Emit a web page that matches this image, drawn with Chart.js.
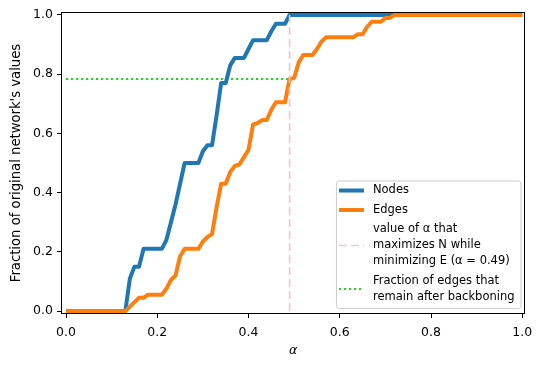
<!DOCTYPE html>
<html lang="en">
<head>
  <meta charset="UTF-8">
  <title>Backboning: fraction kept vs alpha</title>
  <script src="https://cdn.jsdelivr.net/npm/chart.js"></script>
  <style>
    html, body { margin: 0; padding: 0; background: #fff; }
    .chart-box { width: 542px; height: 367px; position: relative; }
  </style>
</head>
<body>

  <div class="chart-box"><canvas id="fracChart"></canvas></div>

  <script>
    // alpha grid (x values)
    const alphas = [
      0.00, 0.01, 0.02, 0.03, 0.04, 0.05, 0.06, 0.07, 0.08, 0.09,
      0.10, 0.11, 0.12, 0.13, 0.14, 0.15, 0.16, 0.17, 0.18, 0.19,
      0.20, 0.21, 0.22, 0.23, 0.24, 0.25, 0.26, 0.27, 0.28, 0.29,
      0.30, 0.31, 0.32, 0.33, 0.34, 0.35, 0.36, 0.37, 0.38, 0.39,
      0.40, 0.41, 0.42, 0.43, 0.44, 0.45, 0.46, 0.47, 0.48, 0.49,
      0.50, 0.51, 0.52, 0.53, 0.54, 0.55, 0.56, 0.57, 0.58, 0.59,
      0.60, 0.61, 0.62, 0.63, 0.64, 0.65, 0.66, 0.67, 0.68, 0.69,
      0.70, 0.71, 0.72, 0.73, 0.74, 0.75, 0.76, 0.77, 0.78, 0.79,
      0.80, 0.81, 0.82, 0.83, 0.84, 0.85, 0.86, 0.87, 0.88, 0.89,
      0.90, 0.91, 0.92, 0.93, 0.94, 0.95, 0.96, 0.97, 0.98, 0.99,
      1.00
    ];

    // fraction of nodes kept
    const nodes = [
      0, 0, 0, 0, 0, 0, 0, 0, 0, 0,
      0, 0, 0, 0, 0.11, 0.15, 0.15, 0.21, 0.21, 0.21,
      0.21, 0.21, 0.24, 0.30, 0.36, 0.43, 0.50, 0.50, 0.50, 0.50,
      0.54, 0.56, 0.56, 0.66, 0.77, 0.77, 0.83, 0.855, 0.855, 0.855,
      0.885, 0.915, 0.915, 0.915, 0.915, 0.945, 0.97, 0.97, 0.97, 1,
      1, 1, 1, 1, 1, 1, 1, 1, 1, 1,
      1, 1, 1, 1, 1, 1, 1, 1, 1, 1,
      1, 1, 1, 1, 1, 1, 1, 1, 1, 1,
      1, 1, 1, 1, 1, 1, 1, 1, 1, 1,
      1, 1, 1, 1, 1, 1, 1, 1, 1, 1,
      1
    ];

    // fraction of edges kept
    const edges = [
      0, 0, 0, 0, 0, 0, 0, 0, 0, 0,
      0, 0, 0, 0, 0.015, 0.03, 0.045, 0.045, 0.055, 0.055,
      0.055, 0.055, 0.075, 0.105, 0.12, 0.185, 0.21, 0.21, 0.21, 0.21,
      0.235, 0.25, 0.26, 0.35, 0.43, 0.43, 0.47, 0.49, 0.495, 0.52,
      0.545, 0.63, 0.635, 0.645, 0.645, 0.68, 0.705, 0.705, 0.705, 0.784,
      0.787, 0.84, 0.865, 0.865, 0.865, 0.885, 0.91, 0.925, 0.925, 0.925,
      0.925, 0.925, 0.925, 0.925, 0.935, 0.935, 0.96, 0.977, 0.977, 0.977,
      0.99, 0.99, 1, 1, 1, 1, 1, 1, 1, 1,
      1, 1, 1, 1, 1, 1, 1, 1, 1, 1,
      1, 1, 1, 1, 1, 1, 1, 1, 1, 1,
      1
    ];

    const alphaBest = 0.49;
    const edgeFracKept = 0.784;

    const xTicks = [0, 0.2, 0.4, 0.6, 0.8, 1.0];
    const yTicks = [0, 0.2, 0.4, 0.6, 0.8, 1.0];

    const legendLabels = [
      ['Nodes'],
      ['Edges'],
      ['value of α that', 'maximizes N while', 'minimizing E (α = 0.49)'],
      ['Fraction of edges that', 'remain after backboning']
    ];

    const FONT = "'DejaVu Sans', sans-serif";
    const toPoints = ys => alphas.map((a, i) => ({ x: a, y: ys[i] }));

    // full box around the axes, like matplotlib spines
    const framePlugin = {
      id: 'frame',
      afterDatasetsDraw(chart) {
        const { ctx, chartArea: a } = chart;
        ctx.save();
        ctx.strokeStyle = '#000';
        ctx.lineWidth = 1;
        ctx.strokeRect(Math.round(a.left) + 0.5, Math.round(a.top) + 0.5,
          Math.round(a.right - a.left) - 1, Math.round(a.bottom - a.top) - 1);
        ctx.restore();
      }
    };

    // matplotlib-style legend with multi-line labels
    const legendPlugin = {
      id: 'mplLegend',
      afterDraw(chart) {
        const { ctx, chartArea: a } = chart;
        const sets = chart.data.datasets;
        ctx.save();
        ctx.font = "11.5px " + FONT;
        let maxW = 0;
        legendLabels.forEach(lines => lines.forEach(t => {
          maxW = Math.max(maxW, ctx.measureText(t).width);
        }));
        const lineGap = 16, entryGap = 19.5;
        let h = 10;
        legendLabels.forEach((lines, i) => {
          if (i > 0) h += entryGap;
          h += (lines.length - 1) * lineGap;
        });
        h += 11;
        const w = 37 + maxW + 6;
        const right = a.right - 4.5, bottom = a.bottom - 6;
        const left = right - w, top = bottom - h;

        ctx.beginPath();
        ctx.roundRect(left + 0.5, top + 0.5, w, h, 3);
        ctx.fillStyle = 'rgba(255,255,255,0.8)';
        ctx.fill();
        ctx.strokeStyle = '#cccccc';
        ctx.lineWidth = 1;
        ctx.stroke();

        let y = top + 10;
        legendLabels.forEach((lines, i) => {
          if (i > 0) y += entryGap;
          const ds = sets[i];
          const midY = y + (lines.length - 1) * lineGap / 2;
          ctx.beginPath();
          ctx.setLineDash(ds.borderDash || []);
          ctx.strokeStyle = ds.borderColor;
          ctx.lineWidth = ds.borderWidth;
          ctx.moveTo(left + 3, midY);
          ctx.lineTo(left + 28, midY);
          ctx.stroke();
          ctx.setLineDash([]);
          ctx.fillStyle = '#000';
          ctx.textBaseline = 'middle';
          ctx.textAlign = 'left';
          lines.forEach((t, k) => {
            ctx.fillText(t, left + 37, y + k * lineGap);
          });
          y += (lines.length - 1) * lineGap;
        });
        ctx.restore();
      }
    };

    const tickFont = { family: FONT, size: 12.5 };

    new Chart(document.getElementById('fracChart').getContext('2d'), {
      type: 'line',
      data: {
        datasets: [
          {
            label: 'Nodes',
            data: toPoints(nodes),
            borderColor: '#1f77b4',
            borderWidth: 4,
            pointRadius: 0,
            borderJoinStyle: 'round',
            order: 3
          },
          {
            label: 'Edges',
            data: toPoints(edges),
            borderColor: '#ff7f0e',
            borderWidth: 4,
            pointRadius: 0,
            borderJoinStyle: 'round',
            order: 2
          },
          {
            label: 'alpha best',
            data: [{ x: alphaBest, y: 0 }, { x: alphaBest, y: 1 }],
            borderColor: 'pink',
            borderWidth: 1.6,
            borderDash: [8, 4],
            pointRadius: 0,
            order: 1
          },
          {
            label: 'edge fraction',
            data: [{ x: 0, y: edgeFracKept }, { x: alphaBest, y: edgeFracKept }],
            borderColor: 'limegreen',
            borderWidth: 2,
            borderDash: [2.3, 2.7],
            pointRadius: 0,
            order: 4
          }
        ]
      },
      options: {
        responsive: true,
        maintainAspectRatio: false,
        animation: false,
        layout: { padding: { top: 12, right: 17, left: 0, bottom: 0 } },
        plugins: {
          legend: { display: false },
          tooltip: { enabled: false }
        },
        scales: {
          x: {
            type: 'linear',
            min: -0.011,
            max: 1.006,
            afterFit: s => { s.height = 53; },
            afterBuildTicks: s => { s.ticks = xTicks.map(v => ({ value: v })); },
            ticks: { font: tickFont, color: '#000', padding: 7, maxRotation: 0,
              callback: v => v.toFixed(1) },
            grid: { display: true, drawOnChartArea: false, drawTicks: true,
              tickLength: 4, tickColor: '#000' },
            border: { display: false },
            title: { display: true, text: 'α',
              font: { family: FONT, size: 12.5, style: 'italic', lineHeight: 1.2 },
              color: '#000', padding: { top: 0, bottom: 9 } }
          },
          y: {
            min: -0.01,
            max: 1.01,
            afterFit: s => { s.width = 61; },
            afterBuildTicks: s => { s.ticks = yTicks.map(v => ({ value: v })); },
            ticks: { font: tickFont, color: '#000', padding: 4,
              callback: v => v.toFixed(1) },
            grid: { display: true, drawOnChartArea: false, drawTicks: true,
              tickLength: 4, tickColor: '#000' },
            border: { display: false },
            title: { display: true, text: "Fraction of original network's values",
              font: { family: FONT, size: 13.2, lineHeight: 1.2 },
              color: '#000', padding: { top: 9, bottom: 0 } }
          }
        }
      },
      plugins: [framePlugin, legendPlugin]
    });
  </script>

</body>
</html>
